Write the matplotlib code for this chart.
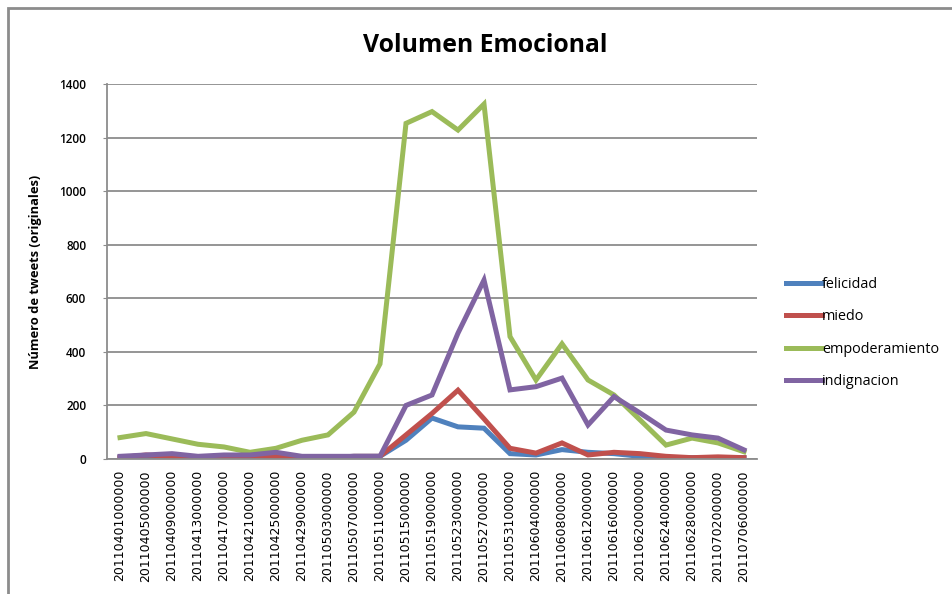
import matplotlib.pyplot as plt
from matplotlib.patches import Rectangle

fechas = ["20110401000000", "20110405000000", "20110409000000", "20110413000000",
          "20110417000000", "20110421000000", "20110425000000", "20110429000000",
          "20110503000000", "20110507000000", "20110511000000", "20110515000000",
          "20110519000000", "20110523000000", "20110527000000", "20110531000000",
          "20110604000000", "20110608000000", "20110612000000", "20110616000000",
          "20110620000000", "20110624000000", "20110628000000", "20110702000000",
          "20110706000000"]

felicidad = [5, 5, 5, 5, 5, 5, 5, 5, 5, 10, 10, 70, 153, 120, 115,
             20, 15, 35, 25, 20, 10, 5, 5, 5, 5]
miedo = [5, 15, 10, 5, 5, 10, 10, 5, 5, 10, 10, 90, 170, 257, 150,
         40, 22, 60, 15, 25, 20, 10, 5, 8, 5]
empoderamiento = [80, 95, 75, 55, 45, 25, 40, 70, 90, 175, 355, 1253, 1297, 1228, 1325,
                  457, 295, 430, 295, 239, 146, 52, 78, 60, 27]
indignacion = [10, 15, 20, 10, 15, 15, 25, 10, 10, 10, 10, 200, 239, 470, 668,
               258, 270, 302, 127, 233, 172, 108, 90, 78, 34]

series = [("felicidad", felicidad, "#4F81BD"),
          ("miedo", miedo, "#C0504D"),
          ("empoderamiento", empoderamiento, "#9BBB59"),
          ("indignacion", indignacion, "#8064A2")]

plt.rcParams['font.family'] = ['Open Sans', 'DejaVu Sans']

fig = plt.figure(figsize=(9.52, 5.94), dpi=100)
ax = fig.add_axes([107 / 952, 1 - 459 / 594, 650 / 952, 375 / 594])

x = list(range(len(fechas)))
for nombre, vals, color in series:
    ax.plot(x, vals, color=color, lw=3.6, label=nombre, solid_joinstyle='miter')

ax.set_xlim(-0.5, len(fechas) - 0.5)
ax.set_ylim(0, 1400)
ax.set_yticks(range(0, 1401, 200))
ax.grid(axis='y', color='#8c8c8c', lw=1.3)
ax.set_axisbelow(True)
ax.set_xticks(x)
ax.set_xticklabels(fechas, rotation=90, fontsize=9, family='DejaVu Sans')
ax.tick_params(axis='x', length=0, pad=8)
ax.tick_params(axis='y', length=3, color='#8c8c8c', labelsize=8.5, pad=12)
for lbl in ax.get_yticklabels():
    lbl.set_fontweight('semibold')
for s in ['top', 'right']:
    ax.spines[s].set_visible(False)
for s in ['left', 'bottom']:
    ax.spines[s].set_color('#8c8c8c')
    ax.spines[s].set_linewidth(1.3)

ax.set_ylabel("Número de tweets (originales)", fontsize=9.3, fontweight='bold', labelpad=12)

fig.text(485 / 952, 1 - 45 / 594, "Volumen Emocional", ha='center', va='center',
         fontsize=17.8, fontweight='bold')

leg = ax.legend(loc='upper left', bbox_to_anchor=(773 / 952, 1 - 264 / 594),
                bbox_transform=fig.transFigure, frameon=False, fontsize=10.4,
                handlelength=2.5, handletextpad=0.0, labelspacing=1.2)

fig.patches.append(Rectangle((8 / 952, -0.05), 1.2, 1 - 8 / 594 + 0.05, transform=fig.transFigure,
                             fill=False, edgecolor='#8c8c8c', lw=2))

fig.savefig("out.png", dpi=100)
